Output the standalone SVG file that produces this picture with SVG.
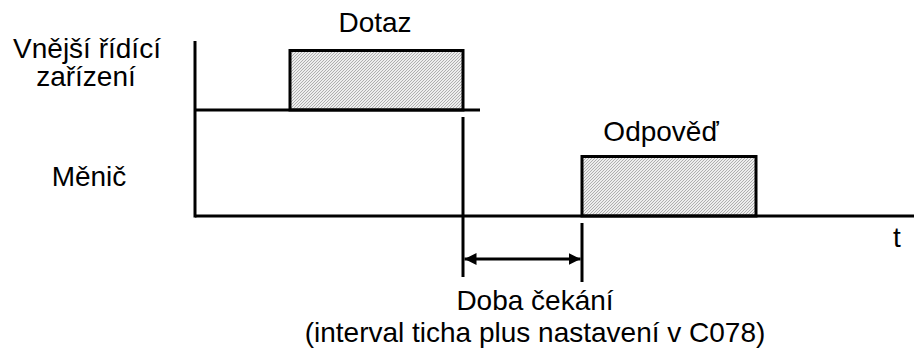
<svg xmlns="http://www.w3.org/2000/svg" width="914" height="350" viewBox="0 0 914 350">
  <style>
    .t { font-family: "Liberation Sans", Arial, sans-serif; font-size: 28px; fill: #000; }
    .ln { stroke: #000; stroke-width: 3; fill: none; }
    .box { stroke: #000; stroke-width: 3; fill: url(#hatch); }
  </style>
  <defs>
    <pattern id="hatch" patternUnits="userSpaceOnUse" width="3" height="3">
      <rect width="3" height="3" fill="#eeeeee"/>
      <path d="M0,3 L3,0 M-1,1 L1,-1 M2,4 L4,2" stroke="#a8a8a8" stroke-width="0.9"/>
    </pattern>
    <marker id="ah" viewBox="0 0 12 12" refX="12" refY="6" markerWidth="12" markerHeight="12" markerUnits="userSpaceOnUse" orient="auto-start-reverse">
      <path d="M0,0 L12,6 L0,12 Z" fill="#000"/>
    </marker>
  </defs>

  <g id="label-external">
    <text class="t" x="87" y="58" text-anchor="middle">Vnější řídící</text>
    <text class="t" x="86" y="86" text-anchor="middle">zařízení</text>
  </g>
  <g id="label-menic">
    <text class="t" x="89" y="186" text-anchor="middle">Měnič</text>
  </g>

  <g id="query">
    <rect class="box" x="290" y="50.5" width="173" height="59.5"/>
    <text class="t" x="375" y="32" text-anchor="middle">Dotaz</text>
  </g>
  <g id="response">
    <rect class="box" x="582" y="156.5" width="174" height="59.5"/>
    <text class="t" x="661" y="141" text-anchor="middle">Odpověď</text>
  </g>

  <g id="connectors">
    <line class="ln" x1="195" y1="41" x2="195" y2="217.5"/>
    <line class="ln" x1="195" y1="110" x2="480" y2="110"/>
    <line class="ln" x1="195" y1="216" x2="914" y2="216"/>
    <line class="ln" x1="463" y1="117" x2="463" y2="277"/>
    <line class="ln" x1="582" y1="223" x2="582" y2="282"/>
    <line class="ln" x1="464.5" y1="259" x2="580.5" y2="259" marker-start="url(#ah)" marker-end="url(#ah)"/>
  </g>

  <g id="time-axis-label">
    <text class="t" x="897" y="247" text-anchor="middle">t</text>
  </g>
  <g id="wait-label">
    <text class="t" x="535" y="310" text-anchor="middle">Doba čekání</text>
    <text class="t" x="535" y="342" text-anchor="middle">(interval ticha plus nastavení v C078)</text>
  </g>
</svg>
